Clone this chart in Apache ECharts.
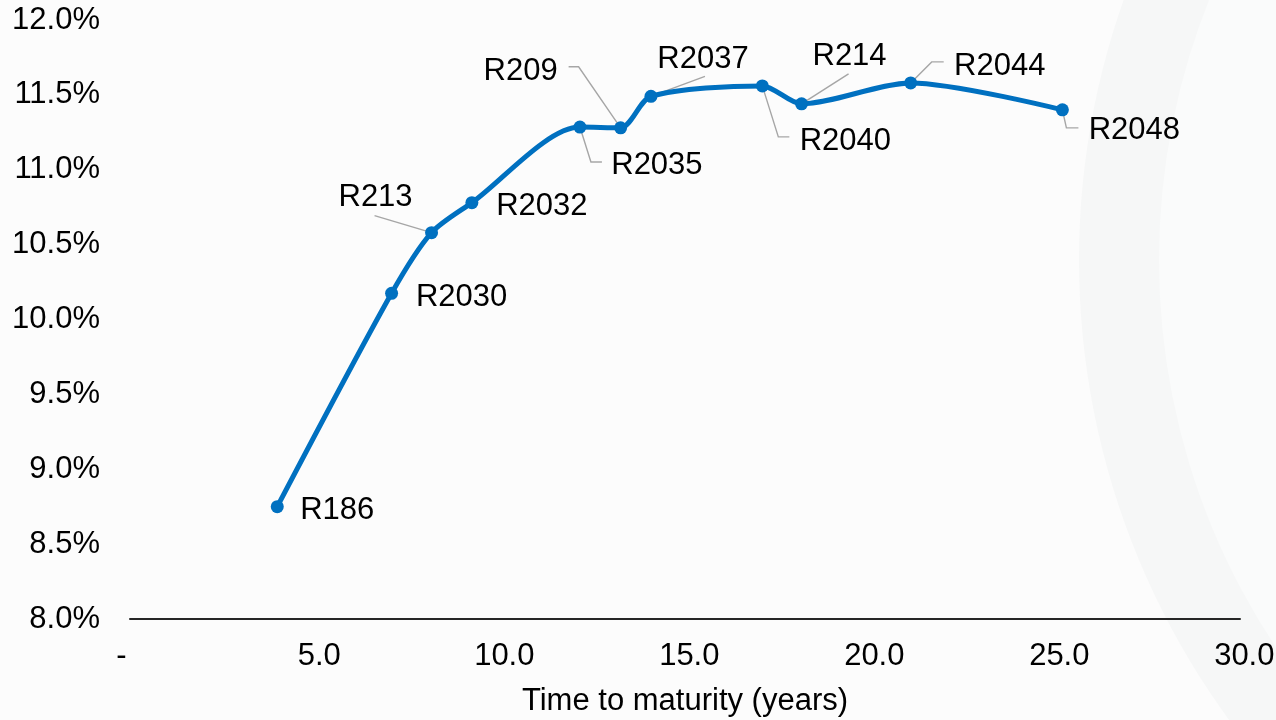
<!DOCTYPE html>
<html>
<head>
<meta charset="utf-8">
<title>Yield curve</title>
<script src="https://cdn.jsdelivr.net/npm/echarts@6/dist/echarts.min.js"></script>
<style>
  html, body { margin: 0; padding: 0; background: #fcfcfc; }
  #chart { width: 1276px; height: 720px; }
</style>
</head>
<body>
<div id="chart"></div>
<script>
// Bond names, time to maturity (years) and yield (%)
const bonds = ['R186', 'R2030', 'R213', 'R2032', 'R2035', 'R209', 'R2037', 'R2040', 'R214', 'R2044', 'R2048'];
const maturities = [3.98, 7.07, 8.15, 9.24, 12.16, 13.26, 14.08, 17.09, 18.15, 21.10, 25.20];
const yields = [8.75, 10.175, 10.58, 10.78, 11.285, 11.28, 11.49, 11.56, 11.44, 11.58, 11.40];

// Axis ticks
const xTickLabels = ['-  ', ' 5.0', ' 10.0', ' 15.0', ' 20.0', ' 25.0', ' 30.0'];
const yTickLabels = ['8.0%', '8.5%', '9.0%', '9.5%', '10.0%', '10.5%', '11.0%', '11.5%', '12.0%'];

// Label placement: offset of each label centre from its point (px)
const labelOffsets = [
  [60, 4], [70, 4], [-56, -35], [70, 4], [77, 38], [-100, -56],
  [52, -37], [83, 56], [48, -47], [89, -16], [72, 21]
];
// Leader lines from point towards label (px, relative to the point)
const leaderPaths = [
  null, null,
  [[0, 0], [-57, -17]],
  null,
  [[0, 0], [11, 35], [22, 35]],
  [[-52, -61], [-42, -61], [0, 0]],
  [[0, 0], [54, -20]],
  [[0, 0], [16, 51], [27, 51]],
  [[0, 0], [47, -30]],
  [[0, 0], [21, -21], [33, -21]],
  [[0, 0], [4, 18], [16, 18]]
];

const FONT = "'Liberation Sans', Arial, sans-serif";
const points = maturities.map((m, i) => [m, yields[i]]);

const chart = echarts.init(document.getElementById('chart'), null, { renderer: 'canvas' });

chart.setOption({
  animation: false,
  backgroundColor: '#fcfcfc',
  graphic: [
    { type: 'circle', silent: true, z: -2, shape: { cx: 1859, cy: 260, r: 780 }, style: { fill: '#f6f7f7' } },
    { type: 'circle', silent: true, z: -1, shape: { cx: 1859, cy: 260, r: 700 }, style: { fill: '#fafbfb' } }
  ],
  grid: { left: 130, right: 36, top: 20, bottom: 101, outerBoundsMode: 'none' },
  xAxis: {
    type: 'value',
    min: 0, max: 30, interval: 5,
    name: 'Time to maturity (years)',
    nameLocation: 'middle',
    nameGap: 67,
    nameTextStyle: { fontFamily: FONT, fontSize: 31, color: '#000' },
    axisLine: { show: true, lineStyle: { color: '#262626', width: 2 } },
    axisTick: { show: false },
    splitLine: { show: false },
    axisLabel: {
      margin: 22,
      fontFamily: FONT, fontSize: 31, color: '#000',
      formatter: v => xTickLabels[Math.round(v / 5)]
    }
  },
  yAxis: {
    type: 'value',
    min: 8, max: 12, interval: 0.5,
    axisLine: { show: false },
    axisTick: { show: false },
    splitLine: { show: false },
    axisLabel: {
      margin: 30,
      fontFamily: FONT, fontSize: 31, color: '#000',
      formatter: v => yTickLabels[Math.round((v - 8) / 0.5)]
    }
  },
  series: [
    {
      type: 'custom',
      name: 'leaders',
      z: 1,
      silent: true,
      data: points,
      renderItem: (params, api) => {
        const path = leaderPaths[params.dataIndex];
        if (!path) return null;
        const p = api.coord([api.value(0), api.value(1)]);
        return {
          type: 'polyline',
          shape: { points: path.map(d => [p[0] + d[0], p[1] + d[1]]) },
          style: { stroke: '#a6a6a6', lineWidth: 1.4, fill: null }
        };
      }
    },
    {
      type: 'line',
      name: 'Yield',
      z: 2,
      data: points,
      smooth: 0.28,
      symbol: 'circle',
      symbolSize: 13,
      showAllSymbol: true,
      lineStyle: { color: '#0070c0', width: 5 },
      itemStyle: { color: '#0070c0' },
      label: {
        show: true,
        position: 'inside',
        fontFamily: FONT, fontSize: 31, color: '#000',
        textBorderWidth: 0,
        formatter: p => bonds[p.dataIndex]
      },
      labelLayout: p => ({ dx: labelOffsets[p.dataIndex][0], dy: labelOffsets[p.dataIndex][1] }),
      emphasis: { disabled: true }
    }
  ]
});
</script>
</body>
</html>
